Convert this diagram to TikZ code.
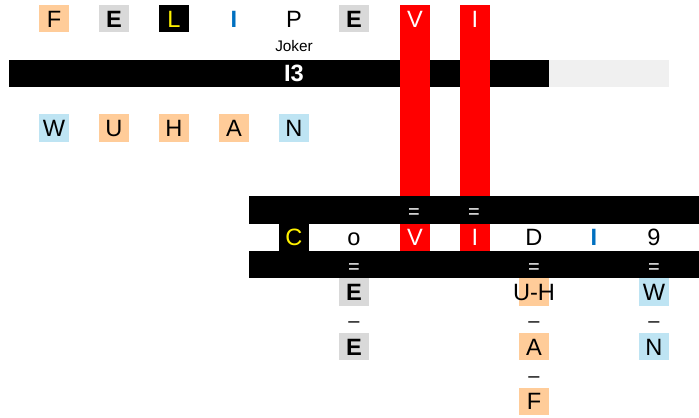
\documentclass[tikz,border=0pt]{standalone}
\usepackage{fontspec}
\setmainfont{Liberation Sans}
\usepackage{xcolor}
\usepackage{tikz}
\definecolor{cellorange}{RGB}{255,204,153}
\definecolor{cellgray}{RGB}{217,217,217}
\definecolor{cellblue}{RGB}{190,228,243}
\definecolor{barlight}{RGB}{240,240,240}
\definecolor{textblue}{RGB}{0,112,192}

\begin{document}
\begin{tikzpicture}[
  x=22.5pt, y=-20.5pt,
  cell/.style={minimum width=22.5pt,minimum height=20.5pt,inner sep=0pt,
               text height=12.7pt,text depth=0pt,
               font=\fontsize{17.7}{20}\selectfont},
  orangecell/.style={cell,fill=cellorange},
  graycell/.style={cell,fill=cellgray,font=\fontsize{17.7}{20}\selectfont\bfseries},
  bluecell/.style={cell,fill=cellblue},
  darkcell/.style={cell,fill=black,text=yellow},
  redcell/.style={cell,fill=red,text=white},
  bluechar/.style={cell,text=textblue,font=\fontsize{17.7}{20}\selectfont\bfseries},
  sign/.style={cell,font=\fontsize{15}{18}\selectfont},
  bar/.style={fill=black}
]
\useasboundingbox (-0.3,-0.183) rectangle (23,15.075);

% bars and red columns
\fill[bar] (0,2) rectangle (18,3);
\fill[barlight] (18,2) rectangle (22,3);
\fill[red] (13.03,0) rectangle (14.03,7);
\fill[red] (15.03,0) rectangle (16.03,7);
\fill[bar] (8,7) rectangle (23,8);
\fill[bar] (8,9) rectangle (23,10);

% top word
\node[orangecell] (f1) at (1.5,0.5) {F};
\node[graycell] (e1) at (3.5,0.5) {E};
\node[darkcell] (l1) at (5.5,0.5) {L};
\node[bluechar] (i1) at (7.5,0.5) {I};
\node[cell] (p1) at (9.5,0.5) {P};
\node[graycell] (e2) at (11.5,0.5) {E};
\node[redcell] (v1) at (13.53,0.5) {V};
\node[redcell] (i2) at (15.53,0.5) {I};
\node[font=\fontsize{11.5}{13}\selectfont] (joker) at (9.5,1.5) {Joker};
\node[cell,text=white,font=\fontsize{17.7}{20}\selectfont\bfseries] (i3) at (9.5,2.5) {I3};

% wuhan
\node[bluecell] (w1) at (1.5,4.5) {W};
\node[orangecell] (u1) at (3.5,4.5) {U};
\node[orangecell] (h1) at (5.5,4.5) {H};
\node[orangecell] (a1) at (7.5,4.5) {A};
\node[bluecell] (n1) at (9.5,4.5) {N};

% covid row
\node[sign,text=white] (eqv) at (13.5,7.5) {=};
\node[sign,text=white] (eqi) at (15.5,7.5) {=};
\node[darkcell] (c2) at (9.5,8.5) {C};
\node[cell] (o2) at (11.5,8.5) {o};
\node[redcell] (v2) at (13.53,8.5) {V};
\node[redcell] (i4) at (15.53,8.5) {I};
\node[cell] (d2) at (17.5,8.5) {D};
\node[bluechar] (i5) at (19.5,8.5) {I};
\node[cell] (nine) at (21.5,8.5) {9};
\node[sign,text=white] (eqo) at (11.5,9.5) {=};
\node[sign,text=white] (eqd) at (17.5,9.5) {=};
\node[sign,text=white] (eqn) at (21.5,9.5) {=};

% columns below
\node[graycell] (e3) at (11.5,10.5) {E};
\node[sign] (dash1) at (11.5,11.5) {–};
\node[graycell] (e4) at (11.5,12.5) {E};

\node[orangecell] (uhbox) at (17.5,10.5) {};
\node[cell] (uh) at (uhbox) {U-H};
\node[sign] (dash2) at (17.5,11.5) {–};
\node[orangecell] (a2) at (17.5,12.5) {A};
\node[sign] (dash3) at (17.5,13.5) {–};
\node[orangecell] (f2) at (17.5,14.5) {F};

\node[bluecell] (w2) at (21.5,10.5) {W};
\node[sign] (dash4) at (21.5,11.5) {–};
\node[bluecell] (n2) at (21.5,12.5) {N};
\end{tikzpicture}
\end{document}
